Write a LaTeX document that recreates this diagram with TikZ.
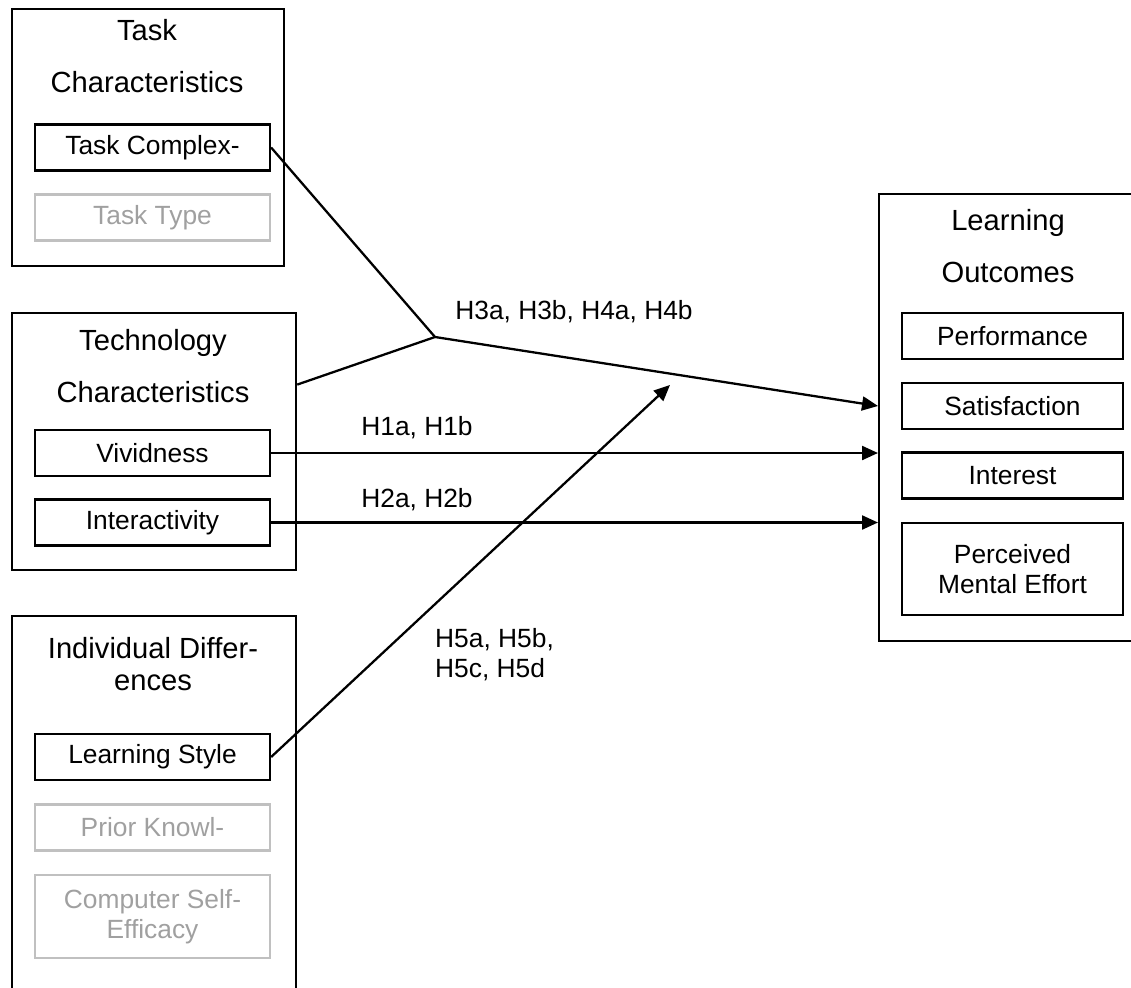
\documentclass[tikz,border=0pt]{standalone}
\usepackage{fontspec}
\setmainfont{Liberation Sans}
\usetikzlibrary{arrows.meta,calc}

\definecolor{faded}{RGB}{192,192,192}
\definecolor{fadedtext}{RGB}{160,160,160}

\tikzset{
    group/.style={draw, line width=1.3pt, inner sep=0pt, anchor=north west},
    item/.style={draw, line width=1.3pt, minimum width=4.7cm, minimum height=0.92cm,
        inner sep=2pt, align=center, font=\fontsize{15}{17}\selectfont},
    ghost/.style={item, draw=faded, text=fadedtext},
    title/.style={align=center, font=\fontsize{16.6}{30}\selectfont},
    hyp/.style={align=left, font=\fontsize{15}{17}\selectfont},
    link/.style={line width=1.3pt},
    arrow/.style={link, -{Triangle[length=0.32cm, width=0.28cm]}},
}

\begin{document}
\begin{tikzpicture}[x=0.02cm, y=-0.02cm]
    \clip (0,0) rectangle (1131,987);

    % groups on the left and the outcome group on the right
    \node[group, minimum width=5.44cm, minimum height=5.14cm] (task) at (11,8) {};
    \node[group, minimum width=5.68cm, minimum height=5.14cm] (tech) at (11,312) {};
    \node[group, minimum width=5.68cm, minimum height=8cm] (indiv) at (11,615) {};
    \node[group, minimum width=6cm, minimum height=8.94cm] (outc) at (878,193) {};

    \node[title] (tasktitle) at (147,56) {Task\\Characteristics};
    \node[title] (techtitle) at (153,366) {Technology\\Characteristics};
    \node[title, font=\fontsize{16.6}{18.5}\selectfont] (indivtitle) at (153,664) {Individual Differ-\\ences};
    \node[title] (outctitle) at (1008,246) {Learning\\Outcomes};

    % constructs
    \node[item] (taskcx) at (152.5,147.5) {Task Complex-};
    \node[ghost] (tasktype) at (152.5,217.5) {Task Type};
    \node[item] (vivid) at (152.5,453) {Vividness};
    \node[item] (inter) at (152.5,522.5) {Interactivity};
    \node[item] (lstyle) at (152.5,757) {Learning Style};
    \node[ghost] (prior) at (152.5,827.5) {Prior Knowl-};
    \node[ghost, minimum height=1.66cm] (cse) at (152.5,916.5) {Computer Self-\\Efficacy};

    \foreach \name/\y/\txt in {perf/336/Performance, satis/406/Satisfaction, interest/475.5/Interest}
        \node[item, minimum width=4.42cm] (\name) at (1012.5,\y) {\txt};
    \node[item, minimum width=4.42cm, minimum height=1.84cm] (pme) at (1012.5,569) {Perceived\\Mental Effort};

    % hypotheses
    \node[hyp] (h34) at (574,312) {H3a, H3b, H4a, H4b};
    \node[hyp] (h1) at (417,428) {H1a, H1b};
    \node[hyp] (h2) at (417,500) {H2a, H2b};
    \node[hyp, anchor=west] (h5) at (429,655) {H5a, H5b,\\H5c, H5d};

    \coordinate (junc) at (435,337);
    \coordinate (h5end) at (670,385);

    \draw[link] (taskcx.east) -- (junc);
    \draw[link] ($(tech.north east)!0.28!(tech.south east)$) -- (junc);
    \draw[arrow] (junc) -- (outc.west |- satis.west);
    \foreach \src in {vivid,inter}
        \draw[arrow] (\src.east) -- (outc.west |- \src.east);
    \draw[arrow] (lstyle.east) -- (h5end);
\end{tikzpicture}
\end{document}
